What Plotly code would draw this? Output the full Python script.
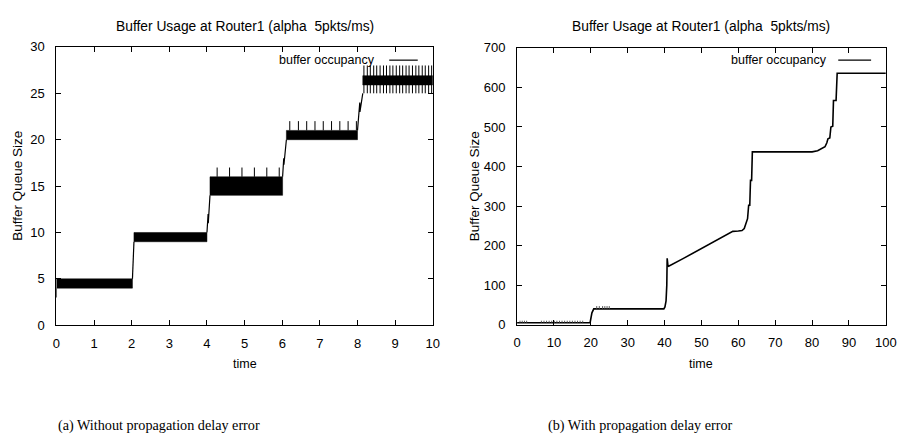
import plotly.graph_objects as go

W, H = 906, 447

# ---------------- Left panel: without propagation delay error ----------------
L_band_start = [0.0, 2.06, 4.08, 6.11, 8.14]
L_band_end = [2.02, 4.00, 6.01, 8.00, 10.0]
L_band_low = [4.0, 9.0, 14.0, 20.0, 25.9]
L_band_high = [5.0, 10.0, 16.0, 21.0, 26.9]

L_step_t = [0.0, 0.0, None, 2.02, 2.03, 2.04, 2.06, None,
            4.00, 4.02, 4.03, 4.035, 4.08, None,
            6.01, 6.03, 6.04, 6.045, 6.11, None,
            8.00, 8.05, 8.06, 8.065, 8.14]
L_step_q = [3.0, 4.0, None, 5.0, 6.0, 6.0, 9.0, None,
            10.0, 11.0, 12.0, 11.0, 14.0, None,
            16.0, 17.3, 18.0, 17.3, 20.0, None,
            21.0, 23.0, 24.0, 23.0, 25.0]

L_spike_t = [4.27, 4.60, 4.93, 5.26, 5.59, 5.92,
             6.20, 6.43, 6.65, 6.87, 7.09, 7.31, 7.53, 7.75, 7.97,
             8.17, 8.26, 8.34, 8.43, 8.51, 8.60, 8.69, 8.77, 8.86, 8.94, 9.03,
             9.12, 9.20, 9.29, 9.37, 9.46, 9.55, 9.63, 9.72, 9.80, 9.89, 9.97]
L_spike_lo = [16.0] * 6 + [21.0] * 9 + [25.0] * 22
L_spike_hi = [17.0] * 6 + [22.0] * 9 + [28.0] * 22

L_xticks = [0, 1, 2, 3, 4, 5, 6, 7, 8, 9, 10]
L_yticks = [0, 5, 10, 15, 20, 25, 30]

# ---------------- Right panel: with propagation delay error ----------------
R_t = [0, 19.8, 20.0, 20.3, 20.8, 30, 39.8, 40.1, 40.4, 40.6, 40.7, 40.9, 41.1,
       45, 50, 54, 57, 58.5, 60, 61, 61.6, 62.0, 62.5, 62.8, 63.1, 63.3, 63.6, 63.8,
       70, 80, 81.5, 82.5, 83.5, 84.0, 84.3, 84.8, 85.1, 85.6, 85.8, 86.5, 86.8, 100]
R_q = [5, 5, 15, 30, 40, 40, 40, 45, 60, 100, 168, 150, 148,
       167, 193, 214, 230, 236, 237, 238, 243, 255, 268, 302, 302, 365, 365, 437,
       437, 437, 440, 445, 450, 460, 470, 472, 500, 502, 567, 567, 636, 636]

R_spike_t = [0.8, 1.4, 2.0, 2.6, 6.6, 7.3, 8.0, 8.7, 9.4, 10.1, 10.8, 11.5, 12.2,
             12.9, 13.6, 14.3, 15.0, 15.7, 16.4, 17.1, 17.8,
             21.6, 22.3, 23.2, 23.8, 24.4, 25.0]
R_spike_lo = [5] * 21 + [40] * 6
R_spike_hi = [10] * 21 + [47] * 6

R_xticks = [0, 10, 20, 30, 40, 50, 60, 70, 80, 90, 100]
R_yticks = [0, 100, 200, 300, 400, 500, 600, 700]

TITLE = "Buffer Usage at Router1 (alpha  5pkts/ms)"
LEGEND = "buffer occupancy"
XLABEL = "time"
YLABEL = "Buffer Queue Size"
CAPTIONS = ["(a) Without propagation delay error", "(b) With propagation delay error"]

SANS = "Liberation Sans, Arial, sans-serif"
SERIF = "Liberation Serif, Times New Roman, serif"


def px(x):
    return x / W


def py(y):
    return 1 - y / H


def spikes(ts, lo, hi):
    xs, ys = [], []
    for t, a, b in zip(ts, lo, hi):
        xs += [t, t, None]
        ys += [a, b, None]
    return xs, ys


fig = go.Figure()

# left bands
for s, e, lo, hi in zip(L_band_start, L_band_end, L_band_low, L_band_high):
    fig.add_trace(go.Scatter(x=[s, e, e, s, s], y=[lo, lo, hi, hi, lo], fill="toself",
                             fillcolor="black", mode="lines", line=dict(width=0.5, color="black"),
                             xaxis="x", yaxis="y", showlegend=False, hoverinfo="skip"))
fig.add_trace(go.Scatter(x=L_step_t, y=L_step_q, mode="lines", line=dict(color="black", width=1.2),
                         xaxis="x", yaxis="y", showlegend=False))
sx, sy = spikes(L_spike_t, L_spike_lo, L_spike_hi)
fig.add_trace(go.Scatter(x=sx, y=sy, mode="lines", line=dict(color="black", width=1),
                         xaxis="x", yaxis="y", showlegend=False))

# right
fig.add_trace(go.Scatter(x=R_t, y=R_q, mode="lines", line=dict(color="black", width=1.6),
                         xaxis="x2", yaxis="y2", showlegend=False))
sx, sy = spikes(R_spike_t, R_spike_lo, R_spike_hi)
fig.add_trace(go.Scatter(x=sx, y=sy, mode="lines", line=dict(color="#555", width=1),
                         xaxis="x2", yaxis="y2", showlegend=False))

axis_common = dict(showline=True, linecolor="black", linewidth=1, mirror="ticks",
                   ticks="inside", ticklen=5, tickcolor="black", tickwidth=1,
                   showgrid=False, zeroline=False,
                   tickfont=dict(family=SANS, size=13, color="black"))

L_dom_x = [px(53.3), px(436.0)]
L_dom_y = [py(329.3), py(41.3)]
R_dom_x = [px(521.7), px(896.7)]
R_dom_y = [py(328.7), py(42.3)]

fig.update_layout(
    width=W, height=H, margin=dict(l=0, r=0, t=0, b=0),
    paper_bgcolor="white", plot_bgcolor="white", showlegend=False,
    xaxis=dict(domain=L_dom_x, range=[0, 10], tickvals=L_xticks, anchor="y",
               ticklabelstandoff=6, **axis_common),
    yaxis=dict(domain=L_dom_y, range=[0, 30], tickvals=L_yticks, anchor="x",
               ticklabelstandoff=8, **axis_common),
    xaxis2=dict(domain=R_dom_x, range=[0, 100], tickvals=R_xticks, anchor="y2",
                ticklabelstandoff=6, **axis_common),
    yaxis2=dict(domain=R_dom_y, range=[0, 700], tickvals=R_yticks, anchor="x2",
                ticklabelstandoff=8, **axis_common),
)

ann = []
shapes = []
panels = [
    dict(dx=L_dom_x, dy=L_dom_y, ylab_x=13, leg_end=379.5, l0=391.7, l1=420.7, cap_x=158, cap=CAPTIONS[0]),
    dict(dx=R_dom_x, dy=R_dom_y, ylab_x=478, leg_end=838.5, l0=848.3, l1=881.7, cap_x=647, cap=CAPTIONS[1]),
]
for p in panels:
    x0, x1 = p["dx"]
    y0, y1 = p["dy"]
    cx = (x0 + x1) / 2
    ann.append(dict(text=TITLE, x=cx, y=py(20), xref="paper", yref="paper",
                    showarrow=False, xanchor="center", yanchor="middle",
                    font=dict(family=SANS, size=13.8, color="black")))
    ann.append(dict(text=XLABEL, x=cx, y=py(369), xref="paper", yref="paper",
                    showarrow=False, xanchor="center", yanchor="middle",
                    font=dict(family=SANS, size=12.5, color="black")))
    ann.append(dict(text=YLABEL, x=px(p["ylab_x"]), y=(y0 + y1) / 2,
                    xref="paper", yref="paper", textangle=-90,
                    showarrow=False, xanchor="center", yanchor="middle",
                    font=dict(family=SANS, size=13.5, color="black")))
    ann.append(dict(text=LEGEND, x=px(p["leg_end"]), y=py(55), xref="paper", yref="paper",
                    showarrow=False, xanchor="right", yanchor="middle",
                    font=dict(family=SANS, size=12.5, color="black")))
    shapes.append(dict(type="line", xref="paper", yref="paper", x0=px(p["l0"]), x1=px(p["l1"]),
                       y0=py(55), y1=py(55), line=dict(color="black", width=1.2)))
    ann.append(dict(text=p["cap"], x=px(p["cap_x"]), y=py(433),
                    xref="paper", yref="paper", showarrow=False, xanchor="center",
                    yanchor="middle", font=dict(family=SERIF, size=14.2, color="black")))

fig.update_layout(annotations=ann, shapes=shapes)

fig.write_html("out.html")
